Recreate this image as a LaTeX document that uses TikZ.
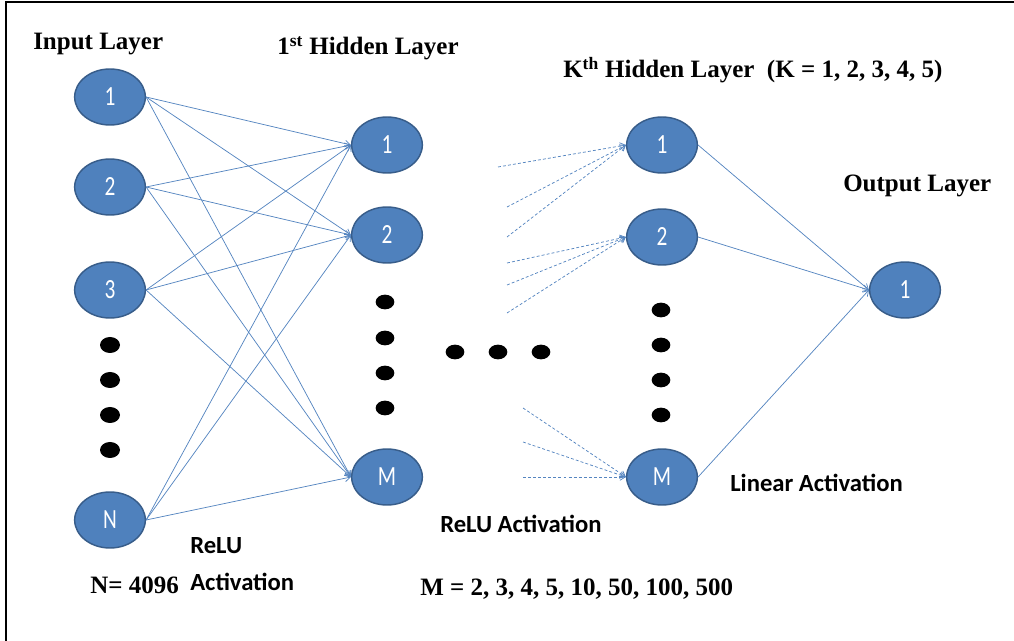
\documentclass[tikz,border=0pt]{standalone}
\usepackage{fontspec}
\usepackage{graphicx}
\setmainfont{Liberation Serif}
\newfontfamily\calib{Carlito}
\usetikzlibrary{shapes.geometric,arrows.meta}
\definecolor{nodefill}{HTML}{4F81BD}
\definecolor{nodeline}{HTML}{385D8A}
\definecolor{edgecol}{HTML}{5585C0}
\newcommand\tallnum[1]{\scalebox{1}[1.3]{#1}}
\begin{document}
\begin{tikzpicture}[x=0.75pt,y=-0.75pt,
  neuron/.style={ellipse, fill=nodefill, draw=nodeline, line width=1.1pt,
    minimum width=53pt, minimum height=42pt, inner sep=0pt, text=white,
    font=\calib\fontsize{16}{18}\selectfont},
  edge/.style={draw=edgecol, line width=0.55pt, -{Straight Barb[length=4pt,width=5pt]}},
  dedge/.style={edge, dash pattern=on 2.2pt off 1.6pt},
  ttl/.style={anchor=base west, inner sep=0pt, font=\bfseries\fontsize{18.75}{20}\selectfont},
  act/.style={anchor=base west, inner sep=0pt, font=\calib\bfseries\fontsize{18.5}{20}\selectfont},
  bigdot/.style={fill=black}
]
\useasboundingbox (0,0) rectangle (1014,641);
\draw[line width=1.1pt] (6,641) -- (6,2) -- (1014,2);

% titles
\node[ttl] (tin) at (33,50) {Input Layer};
\node[ttl] (th1) at (277,55) {1\textsuperscript{st} Hidden Layer};
\node[ttl] (thk) at (563,78) {K\textsuperscript{th} Hidden Layer\ \ (K = 1, 2, 3, 4, 5)};
\node[ttl] (tout) at (843,192) {Output Layer};
\node[ttl] (tn) at (90,593) {N= 4096};
\node[ttl] (tm) at (420,595) {M = 2, 3, 4, 5, 10, 50, 100, 500};
\node[act] (a1a) at (190,553) {ReLU};
\node[act] (a1b) at (190,590) {Activation};
\node[act] (a2) at (440,532) {ReLU Activation};
\node[act] (a3) at (730,491) {Linear Activation};

% input layer
\node[neuron] (i1) at (110,97) {\tallnum{1}};
\node[neuron] (i2) at (110,187) {\tallnum{2}};
\node[neuron] (i3) at (110,290) {\tallnum{3}};
\node[neuron] (iN) at (110,520) {\tallnum{N}};
% hidden 1
\node[neuron] (h1) at (387,145) {\tallnum{1}};
\node[neuron] (h2) at (387,235) {\tallnum{2}};
\node[neuron] (hM) at (387,477) {\tallnum{M}};
% hidden K
\node[neuron] (k1) at (662,145) {\tallnum{1}};
\node[neuron] (k2) at (662,237) {\tallnum{2}};
\node[neuron] (kM) at (662,477) {\tallnum{M}};
% output
\node[neuron] (o1) at (905,290) {\tallnum{1}};

% dots
\foreach \y in {345,380,415,450} \fill[bigdot] (110,\y) ellipse [x radius=7.5pt, y radius=6pt];
\foreach \y in {302,338,373,408} \fill[bigdot] (385,\y) ellipse [x radius=7pt, y radius=5.5pt];
\foreach \x in {455,498,541} \fill[bigdot] (\x,352) ellipse [x radius=7pt, y radius=5.5pt];
\foreach \y in {310,345,380,415} \fill[bigdot] (661,\y) ellipse [x radius=7pt, y radius=5.5pt];

% input -> hidden 1
\foreach \s in {i1,i2,i3,iN}
  \foreach \t in {h1,h2,hM}
    \draw[edge] (\s.east) -- (\t.west);

% dashed into K layer
\coordinate (d1) at (498,167);
\coordinate (d2) at (507,207);
\coordinate (d3) at (507,237);
\coordinate (d4) at (507,263);
\coordinate (d5) at (507,285);
\coordinate (d6) at (507,313);
\coordinate (d7) at (523,408);
\coordinate (d8) at (523,442);
\coordinate (d9) at (523,477);
\foreach \c in {d1,d2,d3} \draw[dedge] (\c) -- (k1.west);
\foreach \c in {d4,d5,d6} \draw[dedge] (\c) -- (k2.west);
\foreach \c in {d7,d8,d9} \draw[dedge] (\c) -- (kM.west);

% K layer -> output
\foreach \s in {k1,k2,kM} \draw[edge] (\s.east) -- (o1.west);
\end{tikzpicture}
\end{document}
